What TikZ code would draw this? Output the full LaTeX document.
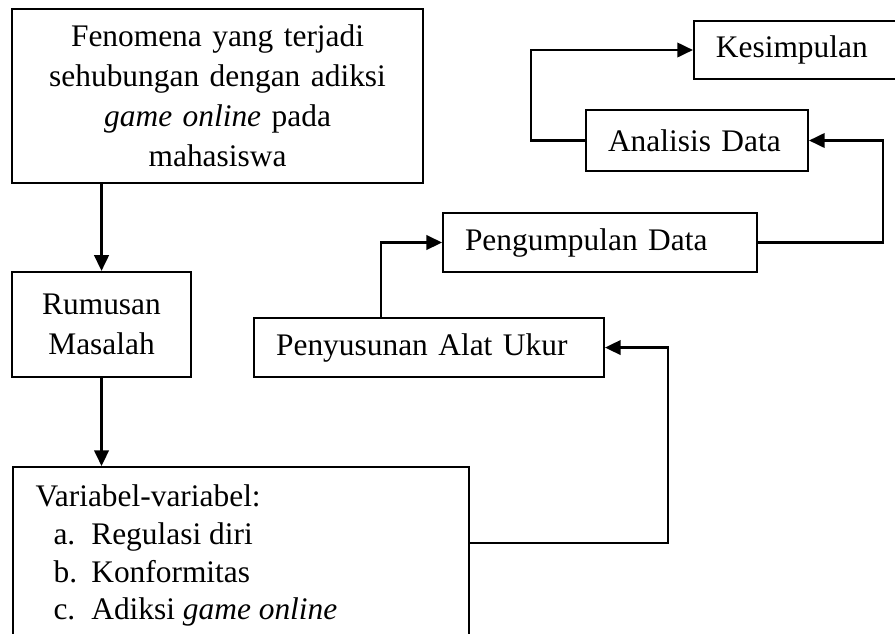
\documentclass[tikz,border=0pt]{standalone}
\usepackage{fontspec}
\setmainfont{Liberation Serif}
\usepackage{tikz}
\usetikzlibrary{arrows.meta, positioning, calc}

\begin{document}
\begin{tikzpicture}[
        font=\fontsize{13}{16.5}\selectfont,
        block/.style={rectangle, draw=black, line width=0.8pt, inner xsep=0.32cm, inner ysep=0.1cm},
        midblock/.style={block, align=center},
        leftblock/.style={block, align=left, minimum height=0.86cm},
        arrow/.style={line width=1pt, -{Triangle[length=6.5pt, width=6pt]}, draw=black}
    ]
        \clip (0,0) rectangle (13.02,-9.21);

        % --- Left column ---
        \node[midblock, text width=5.34cm, minimum height=2.53cm] (fen) at (3.165, -1.397)
            {Fenomena yang terjadi\\ sehubungan dengan adiksi\\ \textit{game online} pada\\ mahasiswa};
        \node[midblock, text width=1.96cm, minimum height=1.53cm] (rum) at (1.477, -4.72)
            {Rumusan\\ Masalah};
        \node[block, anchor=north west, inner xsep=0.33cm, inner ysep=0.26cm] (var) at (0.175, -6.78)
            {\parbox[t][2.9cm][t]{5.97cm}{\baselineskip=15.6pt
             Variabel-variabel:\\
             \hspace*{0.26cm}\makebox[0.55cm][l]{a.}Regulasi diri\\
             \hspace*{0.26cm}\makebox[0.55cm][l]{b.}Konformitas\\
             \hspace*{0.26cm}\makebox[0.55cm][l]{c.}Adiksi \textit{game online}}};
        \draw[arrow] (rum |- fen.south) -- (rum.north);
        \draw[arrow] (rum.south) -- (rum.south |- var.north);

        % --- Right chain ---
        \node[leftblock, text width=4.45cm] (pen)  at (6.242, -5.056) {Penyusunan Alat Ukur};
        \node[leftblock, text width=3.93cm] (peng) at (8.73, -3.528)  {Pengumpulan Data};
        \node[leftblock, text width=2.59cm, minimum height=0.89cm] (ana) at (10.14, -2.044) {Analisis Data};
        \node[leftblock, text width=2.43cm, minimum height=0.84cm] (kes) at (11.63, -0.7275) {Kesimpulan};
        \draw[arrow] ([yshift=-1.12cm]var.north east) -| ([xshift=0.92cm]pen.east) -- (pen.east);
        \draw[arrow] ([xshift=-0.70cm]pen.north) |- (peng.west);
        \draw[arrow] (peng.east) -| ([xshift=1.08cm]ana.east) -- (ana.east);
        \draw[arrow] (ana.west) -| ([xshift=-2.36cm]kes.west) -- (kes.west);
    \end{tikzpicture}
\end{document}
